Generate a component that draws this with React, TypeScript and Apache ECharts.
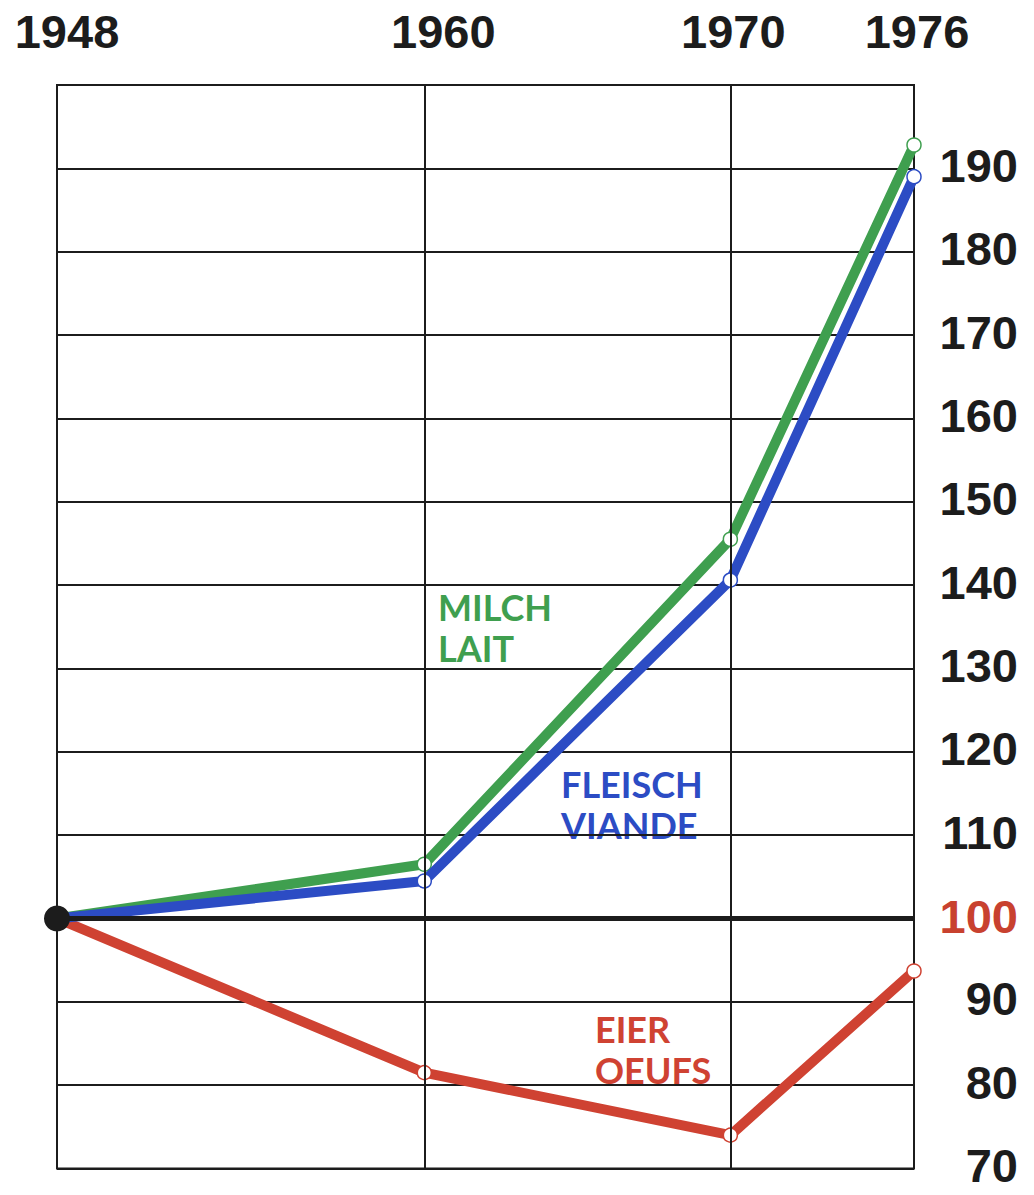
import React, { useEffect, useRef } from "react";
import * as echarts from "echarts";

const years = [1948, 1960, 1970, 1976];
const milch = [100, 106.5, 145.5, 192.8];
const fleisch = [100, 104.5, 140.6, 189];
const eier = [100, 81.5, 74, 93.7];
const yTicks = [70, 80, 90, 100, 110, 120, 130, 140, 150, 160, 170, 180, 190];
const baseValue = 100;
const seriesLabels = [
  { lines: ["MILCH", "LAIT"], color: "#3f9f4f", left: 438, top: 588 },
  { lines: ["FLEISCH", "VIANDE"], color: "#2c4cc4", left: 561, top: 765 },
  { lines: ["EIER", "OEUFS"], color: "#cf4232", left: 595, top: 1010 },
];

const GREEN = "#3f9f4f";
const BLUE = "#2c4cc4";
const RED = "#cf4232";
const INK = "#1c1c1c";

const pairs = (vals: number[]) => years.map((y, i) => [y, vals[i]]);

export default function App() {
  const ref = useRef<HTMLDivElement>(null);
  useEffect(() => {
    document.body.style.margin = "0";
    const chart = echarts.init(ref.current!, undefined, { renderer: "svg" });
    const lineSeries = (name: string, vals: number[], color: string, z: number) => ({
      type: "line",
      name,
      data: pairs(vals).map((p, i) => ({
        value: p,
        symbolSize: i === 0 ? 0 : 14,
      })),
      z,
      symbol: "circle",
      showSymbol: true,
      lineStyle: { color, width: 10, join: "round", cap: "round" },
      itemStyle: { color: "#ffffff", borderColor: color, borderWidth: 1.5 },
    });
    const labelFont = { fontFamily: "Liberation Sans", fontWeight: "bold", fontSize: 47, color: INK };
    const graphics: any[] = [];
    seriesLabels.forEach((s) => {
      s.lines.forEach((t, i) => {
        graphics.push({
          type: "text",
          left: s.left,
          top: s.top + i * 41,
          style: { text: t, fill: s.color, font: "bold 36px Lato", lineHeight: 38 },
        });
      });
    });
    chart.setOption({
      animation: false,
      backgroundColor: "#ffffff",
      grid: {
        left: 57,
        right: 120,
        top: 85,
        bottom: 24,
        show: true,
        borderColor: INK,
        borderWidth: 2,
        backgroundColor: "transparent",
      },
      xAxis: {
        type: "value",
        min: years[0],
        max: years[years.length - 1],
        position: "top",
        axisLine: { show: false },
        axisTick: { show: false },
        splitLine: { show: false },
        axisLabel: {
          customValues: years,
          margin: 30,
          formatter: (v: number) =>
            v === 1948 ? "{a|" + v + "}" : v === 1960 ? "{b|" + v + "}" : "{c|" + v + "}",
          rich: {
            a: { ...labelFont, padding: [0, 0, 0, 20] },
            b: { ...labelFont, padding: [0, 0, 0, 38] },
            c: { ...labelFont, padding: [0, 0, 0, 6] },
          },
        },
      },
      yAxis: {
        type: "value",
        min: 70,
        max: 200,
        interval: 10,
        position: "right",
        axisLine: { show: false },
        axisTick: { show: false },
        splitLine: { show: true, lineStyle: { color: INK, width: 2 } },
        axisLabel: {
          align: "right",
          margin: 104,
          formatter: (v: number) =>
            yTicks.indexOf(v) < 0 ? "" : v === baseValue ? "{r|" + v + "}" : "{k|" + v + "}",
          rich: {
            k: { ...labelFont, lineHeight: 44, padding: [0, 0, 6, 0] },
            r: { ...labelFont, color: "#c8412f", lineHeight: 44, padding: [0, 0, 4, 0] },
          },
        },
      },
      series: [
        {
          type: "line",
          data: [],
          markLine: {
            silent: true,
            symbol: "none",
            label: { show: false },
            lineStyle: { color: INK, width: 2, type: "solid" },
            data: [{ xAxis: 1960 }, { xAxis: 1970 }],
          },
          z: 1,
        },
        lineSeries("MILCH", milch, GREEN, 2),
        lineSeries("FLEISCH", fleisch, BLUE, 3),
        lineSeries("EIER", eier, RED, 2),
        {
          type: "line",
          data: [
            [years[0], baseValue],
            [years[years.length - 1], baseValue],
          ],
          symbol: "none",
          lineStyle: { color: INK, width: 5 },
          z: 4,
        },
        {
          type: "scatter",
          data: [[years[0], baseValue]],
          symbolSize: 26,
          itemStyle: { color: INK, opacity: 1 },
          z: 5,
        },
      ],
      graphic: graphics,
    });
    return () => chart.dispose();
  }, []);
  return <div ref={ref} style={{ width: 1034, height: 1195 }} />;
}
